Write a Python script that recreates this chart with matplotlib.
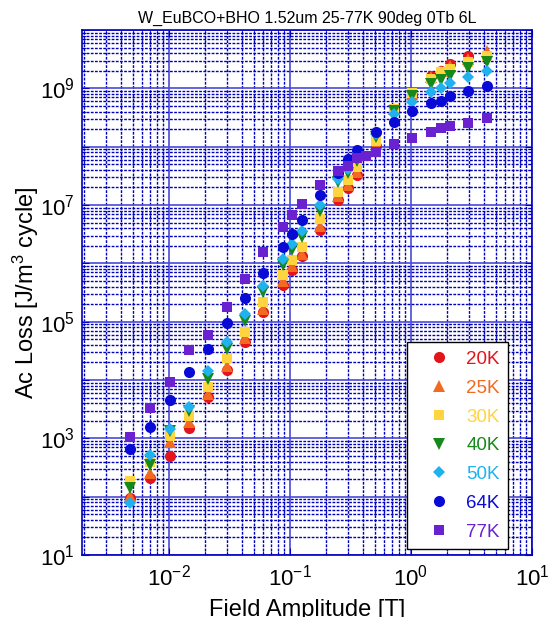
import matplotlib
matplotlib.use("Agg")
import matplotlib.pyplot as plt
from matplotlib.ticker import LogLocator, FixedLocator, FuncFormatter, NullFormatter
import numpy as np

plt.rcParams['font.family'] = ['Liberation Sans', 'DejaVu Sans']
plt.rcParams['mathtext.fontset'] = 'custom'
plt.rcParams['mathtext.rm'] = 'Liberation Sans'
plt.rcParams['mathtext.it'] = 'Liberation Sans:italic'
plt.rcParams['mathtext.bf'] = 'Liberation Sans:bold'

title = "W_EuBCO+BHO 1.52um 25-77K 90deg 0Tb 6L"
labels = ["20K", "25K", "30K", "40K", "50K", "64K", "77K"]
colors = ["#e3141b", "#f26a1f", "#ffd43f", "#16891a", "#1fb2ef", "#0a0ad6", "#6a22d0"]
markers = ["o", "^", "s", "v", "D", "o", "s"]
msizes = [8, 8.5, 7.5, 8.5, 6.5, 8, 7.5]

# field amplitudes [T]
x_common = [0.0048, 0.0070, 0.0102, 0.0146, 0.021, 0.030, 0.0425, 0.060, 0.0875,
            0.104, 0.126, 0.177, 0.249, 0.302, 0.358, 0.514, 0.724, 1.02, 1.46,
            1.77, 2.10, 2.96, 4.25]
x_20K = x_common[:-1]
x_77K = [0.0048, 0.0070, 0.0102, 0.0146, 0.021, 0.030, 0.0425, 0.060, 0.0875,
         0.104, 0.126, 0.177, 0.249, 0.302, 0.358, 0.425, 0.514, 0.724, 1.02, 1.46,
         1.77, 2.10, 2.96, 4.25]

# AC loss [J/m^3 cycle]
y_20K = [96, 211, 504, 1.52e3, 5.15e3, 1.50e4, 4.51e4, 1.47e5, 4.27e5, 7.71e5, 1.34e6,
         3.73e6, 1.22e7, 1.95e7, 3.26e7, 1.02e8, 4.24e8, 7.66e8, 1.62e9, 1.97e9, 2.60e9,
         3.56e9]
y_25K = [104, 258, 875, 1.92e3, 5.81e3, 1.75e4, 5.28e4, 1.66e5, 5.0e5, 9.03e5, 1.45e6,
         4.37e6, 1.43e7, 2.20e7, 3.67e7, 1.11e8, 4.41e8, 7.96e8, 1.56e9, 2.0e9, 2.40e9,
         3.16e9, 4.34e9]
y_30K = [188, 397, 1.11e3, 2.44e3, 7.66e3, 2.40e4, 6.68e4, 2.18e5, 6.33e5, 1.14e6, 1.91e6,
         5.76e6, 1.67e7, 2.68e7, 4.48e7, 1.25e8, 4.41e8, 8.28e8, 1.44e9, 1.9e9, 2.13e9,
         2.81e9, 3.56e9]
y_40K = [143, 353, 1.35e3, 2.97e3, 1.05e4, 3.42e4, 1.03e5, 3.24e5, 9.39e5, 1.69e6, 2.83e6,
         7.89e6, 2.48e7, 3.53e7, 5.67e7, 1.46e8, 4.07e8, 7.35e8, 1.18e9, 1.38e9, 1.62e9,
         2.22e9, 2.81e9]
y_50K = [79, 524, 1.46e3, 3.47e3, 1.44e4, 4.51e4, 1.36e5, 4.10e5, 1.19e6, 2.15e6, 3.59e6,
         1.0e7, 2.79e7, 4.13e7, 7.47e7, 1.64e8, 3.62e8, 5.81e8, 8.61e8, 1.01e9, 1.23e9,
         1.56e9, 1.97e9]
y_64K = [664, 1.58e3, 4.58e3, 1.38e4, 3.42e4, 9.53e4, 2.56e5, 6.85e5, 1.91e6, 3.19e6, 5.53e6,
         1.48e7, 3.53e7, 6.14e7, 8.75e7, 1.78e8, 2.64e8, 4.07e8, 5.58e8, 6.04e8, 7.35e8,
         8.95e8, 1.09e9]
y_77K = [1.06e3, 3.34e3, 9.31e3, 3.29e4, 5.94e4, 1.79e5, 5.41e5, 1.57e6, 4.20e6, 6.74e6, 1.04e7,
         2.20e7, 3.82e7, 4.65e7, 6.38e7, 6.91e7, 8.09e7, 1.11e8, 1.40e8, 1.78e8, 2.08e8,
         2.25e8, 2.54e8, 3.09e8]

xs = [x_20K, x_common, x_common, x_common, x_common, x_common, x_77K]
ys = [y_20K, y_25K, y_30K, y_40K, y_50K, y_64K, y_77K]

W, H = 554, 617
fig = plt.figure(figsize=(W / 100, H / 100), dpi=100)
L, R, T, B = 82, 532, 30, 555
ax = fig.add_axes([L / W, 1 - B / H, (R - L) / W, (B - T) / H])
ax.set_xscale('log')
ax.set_yscale('log')
ax.set_xlim(0.00191, 10)
ax.set_ylim(10, 1e10)

gridblue = '#0000c0'
ax.xaxis.set_major_locator(FixedLocator([1e-2, 1e-1, 1e0, 1e1]))
ax.yaxis.set_major_locator(FixedLocator([10.0 ** k for k in range(1, 11)]))
ax.xaxis.set_minor_locator(LogLocator(base=10, subs=np.arange(2, 10), numticks=50))
ax.yaxis.set_minor_locator(LogLocator(base=10, subs=np.arange(2, 10), numticks=50))
ax.xaxis.set_minor_formatter(NullFormatter())
ax.yaxis.set_minor_formatter(NullFormatter())


def xfmt(v, pos):
    e = int(round(np.log10(v)))
    return r'$\mathdefault{10^{%d}}$' % e


def yfmt(v, pos):
    e = int(round(np.log10(v)))
    if e % 2 == 1 and e < 10:
        return r'$\mathdefault{10^{%d}}$' % e
    return ''


ax.xaxis.set_major_formatter(FuncFormatter(xfmt))
ax.yaxis.set_major_formatter(FuncFormatter(yfmt))

ax.grid(True, which='minor', color=gridblue, linestyle=(0, (2, 1)), linewidth=1.0)
ax.grid(True, which='major', color='#4a4ad8', linestyle='-', linewidth=1.2)
ax.set_axisbelow(True)
for s in ax.spines.values():
    s.set_color(gridblue)
    s.set_linewidth(1.2)
ax.tick_params(which='both', direction='in', colors=gridblue, labelcolor='black',
               top=True, right=True)
ax.tick_params(which='major', length=5, labelsize=16)
ax.tick_params(which='minor', length=3)
ax.tick_params(axis='x', pad=7)
ax.tick_params(axis='y', pad=5)

handles = []
for x, y, c, m, ms, lab in zip(xs, ys, colors, markers, msizes, labels):
    h, = ax.plot(x, y, linestyle='none', marker=m, markersize=ms, color=c,
                 markeredgewidth=0, label=lab, zorder=3)
    handles.append(h)

leg = ax.legend(handles=handles, loc='lower right', bbox_to_anchor=(0.947, 0.0115),
                borderaxespad=0, fontsize=13.5, frameon=True, fancybox=False,
                edgecolor='black', framealpha=1, labelspacing=0.62, borderpad=0.45,
                handlelength=2.5, handletextpad=0.2, labelcolor=colors)
leg.get_frame().set_linewidth(1.0)

ax.set_title(title, fontsize=11.5, pad=5)
ax.set_xlabel('Field Amplitude [T]', fontsize=17, labelpad=6)
ax.set_ylabel('Ac Loss [J/m$^3$ cycle]', fontsize=17, labelpad=-1)

fig.savefig('out.png', dpi=100)
